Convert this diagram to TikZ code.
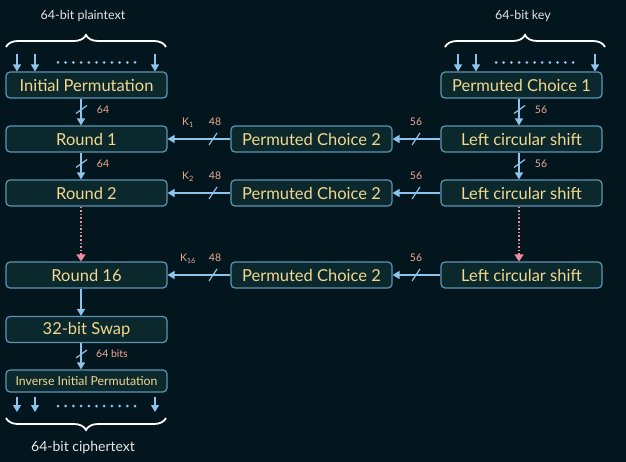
\documentclass[tikz,border=0pt]{standalone}
\usepackage{fontspec}
\setmainfont{Lato}
\usetikzlibrary{arrows.meta,decorations.pathreplacing,calc}
\definecolor{bg}{HTML}{03161D}
\definecolor{boxfill}{HTML}{0B282C}
\definecolor{boxline}{HTML}{5E95B5}
\definecolor{boxtext}{HTML}{F2D88E}
\definecolor{arr}{HTML}{8CC4EC}
\definecolor{lab}{HTML}{F0A890}
\definecolor{pinkd}{HTML}{F08CA0}
\definecolor{headc}{HTML}{E6E6E6}
\begin{document}
\begin{tikzpicture}[x=1pt,y=-1pt,
 box/.style={draw=boxline,fill=boxfill,line width=1.2pt,rounded corners=4pt,minimum width=161pt,minimum height=26pt,inner sep=0pt,text=boxtext,font=\fontsize{16.5}{16.5}\selectfont},
 smallbox/.style={box,minimum height=22pt,font=\fontsize{12.3}{12.3}\selectfont},
 conn/.style={draw=arr,line width=1.3pt,-{Triangle[length=7pt,width=8pt]}},
 dotconn/.style={draw=pinkd,line width=1.6pt,dotted,-{Triangle[length=7pt,width=9pt]}},
 lbl/.style={text=lab,inner sep=0pt,font=\fontsize{10.5}{10.5}\selectfont},
 headtxt/.style={text=headc,inner sep=0pt,font=\fontsize{12.5}{12.5}\selectfont},
 cutmark/.style={draw=arr,line width=1.2pt},
 bracemark/.style={draw=white,line width=1.8pt,decorate,decoration={brace,amplitude=12pt}},
 bitdot/.style={fill=arr}
]
\useasboundingbox[fill=bg] (0,0) rectangle (626,462);

% headers
\node[headtxt] (hp) at (83,16) {64-bit plaintext};
\node[headtxt] (hk) at (523,16) {64-bit key};
\node[headtxt,font=\fontsize{14}{14}\selectfont] (hc) at (83,448) {64-bit ciphertext};

% braces
\draw[bracemark] (6,47) -- (166,47);
\draw[bracemark] (445,47) -- (605,47);
\draw[bracemark] (166,418) -- (6,418);

% boxes left
\node[box] (ip) at (86.5,85) {Initial Permutation};
\node[box] (r1) at (86.5,139) {Round 1};
\node[box] (r2) at (86.5,193) {Round 2};
\node[box] (r16) at (86.5,275) {Round 16};
\node[box] (sw) at (86.5,329.5) {32-bit Swap};
\node[smallbox] (iip) at (86.5,381) {Inverse Initial Permutation};

% boxes middle
\node[box] (pa) at (311.5,139) {Permuted Choice 2};
\node[box] (pb) at (311.5,193) {Permuted Choice 2};
\node[box] (pc) at (311.5,275) {Permuted Choice 2};

% boxes right
\node[box] (pc1) at (521.5,85) {Permuted Choice 1};
\node[box] (la) at (521.5,139) {Left circular shift};
\node[box] (lb) at (521.5,193) {Left circular shift};
\node[box] (lc) at (521.5,275) {Left circular shift};

% input arrows plaintext
\foreach \n/\xx in {a/17,b/35,c/155}{
  \coordinate (pt\n) at (\xx,54);
  \draw[conn] (pt\n) -- (pt\n |- ip.north);
}
\foreach \i in {0,...,10} \fill[bitdot] (58+\i*7.7,62.5) circle (1.5pt);
% input arrows key
\foreach \n/\xx in {a/458,b/476,c/595}{
  \coordinate (kt\n) at (\xx,54);
  \draw[conn] (kt\n) -- (kt\n |- pc1.north);
}
\foreach \i in {0,...,10} \fill[bitdot] (496+\i*7.7,62.5) circle (1.5pt);
% output arrows
\foreach \n/\xx in {a/17,b/35,c/155}{
  \coordinate (ot\n) at (\xx,412);
  \draw[conn] (ot\n |- iip.south) ++(0,4) -- (ot\n);
}
\foreach \i in {0,...,10} \fill[bitdot] (58+\i*7.7,406) circle (1.5pt);

% left column
\draw[conn] (ip.south -| 81,0) -- (r1.north -| 81,0);
\draw[cutmark] (76,113.5) -- (87,105.5);
\node[lbl] at (103,109.5) {64};
\draw[conn] (r1.south -| 81,0) -- (r2.north -| 81,0);
\draw[cutmark] (76,167.5) -- (87,159.5);
\node[lbl] at (103,163.5) {64};
\draw[dotconn] (r2.south -| 81,0) -- (r16.north -| 81,0);
\draw[conn] (r16.south -| 81,0) -- (sw.north -| 81,0);
\draw[conn] (sw.south -| 81,0) -- (iip.north -| 81,0);
\draw[cutmark] (76,358) -- (87,350);
\node[lbl,anchor=west] at (96,354) {64 bits};

% right column
\draw[conn] (pc1.south -| 519,0) -- (la.north -| 519,0);
\draw[cutmark] (514,113.5) -- (525,105.5);
\node[lbl] at (541,109.5) {56};
\draw[conn] (la.south -| 519,0) -- (lb.north -| 519,0);
\draw[cutmark] (514,167.5) -- (525,159.5);
\node[lbl] at (541,163.5) {56};
\draw[dotconn] (lb.south -| 519,0) -- (lc.north -| 519,0);

% horizontal
\foreach \l/\p/\r/\yy/\k in {la/pa/r1/139/1,lb/pb/r2/193/2,lc/pc/r16/275/16}{
  \draw[conn] (\l.west) -- (\p.east);
  \draw[cutmark] (412,\yy+6) -- (420,\yy-6);
  \node[lbl] at (416,\yy-17) {56};
  \draw[conn] (\p.west) -- (\r.east);
  \draw[cutmark] (209,\yy+6) -- (217,\yy-6);
  \node[lbl] at (215,\yy-17) {48};
  \node[lbl] at (188,\yy-16) {K\textsubscript{\k}};
}
\end{tikzpicture}
\end{document}
